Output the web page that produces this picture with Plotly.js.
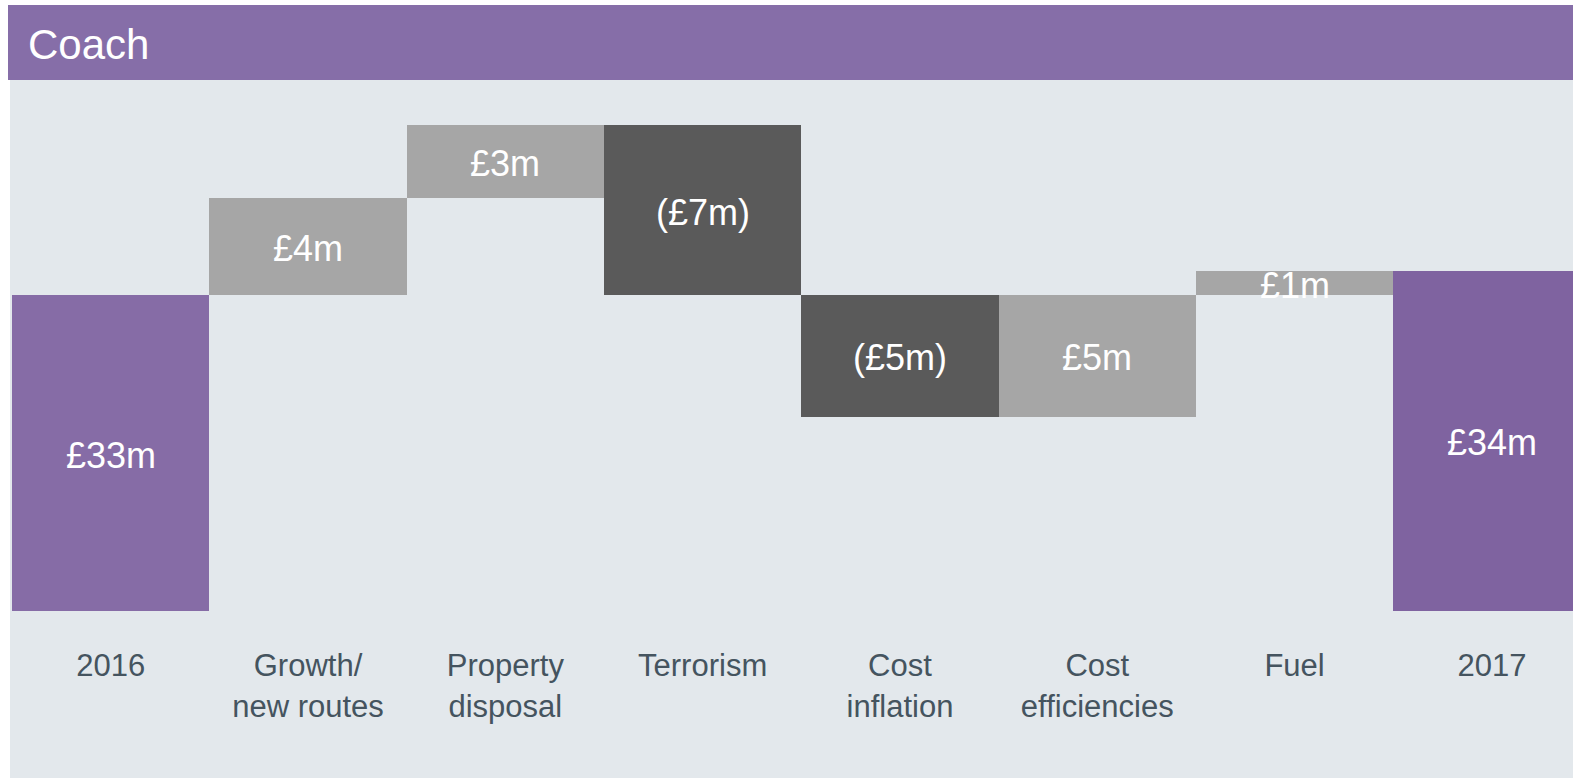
<!DOCTYPE html>
<html><head><meta charset="utf-8">
<script src="https://cdn.plot.ly/plotly-3.0.1.min.js"></script>
<style>html,body{margin:0;padding:0;background:#fff;overflow:hidden}</style>
</head><body><div id="chart" style="width:1573px;height:781px"></div>
<script>
// ---- data ----
const categories = ["2016", "Growth/<br>new routes", "Property<br>disposal", "Terrorism", "Cost<br>inflation", "Cost<br>efficiencies", "Fuel", "2017"];
const measures = ["absolute", "relative", "relative", "relative", "relative", "relative", "relative", "total"];
const values = [33, 4, 3, -7, -5, 5, 1, 34];
const barLabels = ["£33m", "£4m", "£3m", "(£7m)", "(£5m)", "£5m", "£1m", "£34m"];
const chartTitle = "Coach";

// ---- style ----
const COLORS = {absolute: "#866ca6", total: "#7f63a0", increase: "#a6a6a6", decrease: "#5a5a5a"};
const FONT = "Liberation Sans, Arial, Helvetica, sans-serif";
const W = 1573, H = 781;
const M = {l: 12, r: 0, t: 102, b: 170};
const yRange = [20, 40.95];
const xRange = [-0.5, 7.411];

// ---- build floating bars ----
const xs = [], bases = [], heights = [], colors = [], mids = [];
let running = 0;
values.forEach((v, i) => {
  let b, h;
  if (measures[i] === "absolute") { b = 0; h = v; running = v; }
  else if (measures[i] === "total") { b = 0; h = v; running = v; }
  else { b = running; h = v; running += v; }
  xs.push(i); bases.push(b); heights.push(h);
  colors.push(measures[i] === "relative" ? (v >= 0 ? COLORS.increase : COLORS.decrease) : COLORS[measures[i]]);
  const lo = Math.max(Math.min(b, b + h), yRange[0]);
  const hi = Math.max(b, b + h);
  mids.push((lo + hi) / 2);
});

const trace = {
  type: "bar", x: xs, y: heights, base: bases,
  marker: {color: colors, line: {width: 0}},
  hoverinfo: "skip", showlegend: false
};

const plotW = W - M.l - M.r, plotH = H - M.t - M.b;
const px = p => (p - M.l) / plotW;
const py = p => (H - M.b - p) / plotH;

const annotations = barLabels.map((t, i) => ({
  x: xs[i], y: mids[i], xref: "x", yref: "y", text: t, showarrow: false,
  xanchor: "center", yanchor: "middle", yshift: -2,
  font: {family: FONT, size: 36, color: "#ffffff"}
}));

const shapes = [
  {type: "rect", xref: "paper", yref: "paper", x0: px(10), x1: px(W + 5), y0: py(778), y1: py(80),
   fillcolor: "#e3e8ec", line: {width: 0}, layer: "below"},
  {type: "rect", xref: "paper", yref: "paper", x0: px(8), x1: px(W + 5), y0: py(80), y1: py(5),
   fillcolor: "#866ea8", line: {width: 0}, layer: "below"}
];

const layout = {
  width: W, height: H, autosize: false,
  margin: M,
  paper_bgcolor: "#ffffff", plot_bgcolor: "rgba(0,0,0,0)",
  title: {text: chartTitle, xref: "container", yref: "container", x: 28 / W, y: 1 - 44 / H,
          xanchor: "left", yanchor: "middle", font: {family: FONT, size: 42, color: "#ffffff"}},
  bargap: 0,
  xaxis: {range: xRange, tickmode: "array", tickvals: xs, ticktext: categories,
          showgrid: false, zeroline: false, showline: false,
          ticks: "outside", ticklen: 27, tickcolor: "rgba(0,0,0,0)",
          tickfont: {family: FONT, size: 31, color: "#45545f"}, fixedrange: true},
  yaxis: {range: yRange, visible: false, showgrid: false, zeroline: false, fixedrange: true},
  shapes: shapes,
  annotations: annotations,
  font: {family: FONT}
};

Plotly.newPlot("chart", [trace], layout, {displayModeBar: false, staticPlot: true});
</script></body></html>
